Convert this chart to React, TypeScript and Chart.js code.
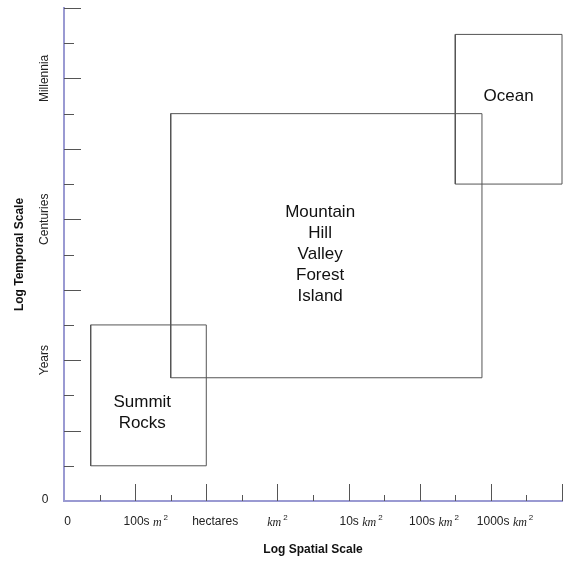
import React, { useEffect, useRef } from 'react';
import { Chart, registerables } from 'chart.js';

Chart.register(...registerables);

// Axis range (log-scale units, one unit per minor tick step)
const axisRange = [0, 14];

// Tick marks
const xMajorTicks = [2, 4, 6, 8, 10, 12, 14];
const xMinorTicks = [1, 3, 5, 7, 9, 11, 13];
const yMajorTicks = [2, 4, 6, 8, 10, 12, 14];
const yMinorTicks = [1, 3, 5, 7, 9, 11, 13];

// X tick labels
const xTickPrefix = ['0', '100s', 'hectares', '', '10s', '100s', '1000s'];
const xTickUnit = ['', 'm', '', 'km', 'km', 'km', 'km'];
const xTickPos = [0.1, 2.3, 4.25, 6, 8.35, 10.4, 12.4];

// Y tick labels
const yTickLabels = ['0', 'Years', 'Centuries', 'Millennia'];
const yTickPos = [0, 4, 8, 12];

// Boxes
const boxNames = ['Summit Rocks', 'Mountain Hill Valley Forest Island', 'Ocean'];
const boxLines = [['Summit', 'Rocks'], ['Mountain', 'Hill', 'Valley', 'Forest', 'Island'], ['Ocean']];
const boxXStart = [0.75, 3, 11];
const boxXEnd = [4, 11.75, 14];
const boxYStart = [1, 3.5, 9];
const boxYEnd = [5, 11, 13.25];
const boxLabelX = [2.2, 7.2, 12.5];
const boxLabelY = [2.5, 7, 11.5];

const SANS = '"Liberation Sans", Arial, sans-serif';
const SERIF = '"Liberation Serif", "Times New Roman", serif';
const AXIS_COLOR = '#9a9ad2';
const TICK_COLOR = '#555555';

const decorPlugin = {
  id: 'decor',
  afterDraw(chart: any) {
    const ctx = chart.ctx as CanvasRenderingContext2D;
    const xs = chart.scales.x;
    const ys = chart.scales.y;
    const area = chart.chartArea;
    ctx.save();
    // tick marks
    ctx.strokeStyle = TICK_COLOR;
    ctx.lineWidth = 1;
    const xTick = (v: number, len: number) => {
      const px = Math.round(xs.getPixelForValue(v)) + 0.5;
      ctx.beginPath();
      ctx.moveTo(px, area.bottom);
      ctx.lineTo(px, area.bottom - len);
      ctx.stroke();
    };
    const yTick = (v: number, len: number) => {
      const py = Math.round(ys.getPixelForValue(v)) + 0.5;
      ctx.beginPath();
      ctx.moveTo(area.left, py);
      ctx.lineTo(area.left + len, py);
      ctx.stroke();
    };
    xMajorTicks.forEach((v) => xTick(v, 17));
    xMinorTicks.forEach((v) => xTick(v, 6));
    yMajorTicks.forEach((v) => yTick(v, 17));
    yMinorTicks.forEach((v) => yTick(v, 10));

    // x tick labels
    ctx.fillStyle = '#222';
    ctx.textBaseline = 'alphabetic';
    ctx.textAlign = 'left';
    const baseY = area.bottom + 24;
    xTickPos.forEach((v, i) => {
      const prefix = xTickPrefix[i];
      const unit = xTickUnit[i];
      const fPre = `12px ${SANS}`;
      const fUnit = `italic 12px ${SERIF}`;
      const fSup = `8px ${SANS}`;
      ctx.font = fPre;
      const pre = prefix + (prefix && unit ? ' ' : '');
      const wPre = ctx.measureText(pre).width;
      ctx.font = fUnit;
      const wUnit = unit ? ctx.measureText(unit).width : 0;
      ctx.font = fSup;
      const wSup = unit ? ctx.measureText('2').width + 2 : 0;
      const total = wPre + wUnit + wSup;
      let x = xs.getPixelForValue(v) - total / 2;
      ctx.font = fPre;
      ctx.fillText(pre, x, baseY);
      x += wPre;
      if (unit) {
        ctx.font = fUnit;
        ctx.fillText(unit, x, baseY + 1);
        x += wUnit + 2;
        ctx.font = fSup;
        ctx.fillText('2', x, baseY - 5);
      }
    });

    // y tick labels
    ctx.font = `12px ${SANS}`;
    ctx.textAlign = 'center';
    ctx.textBaseline = 'middle';
    yTickPos.forEach((v, i) => {
      const py = ys.getPixelForValue(v);
      if (i === 0) {
        ctx.fillText(yTickLabels[i], 45, py - 1);
      } else {
        ctx.save();
        ctx.translate(45, py);
        ctx.rotate(-Math.PI / 2);
        ctx.fillText(yTickLabels[i], 0, 0);
        ctx.restore();
      }
    });

    // box labels
    ctx.font = `17px ${SANS}`;
    ctx.fillStyle = '#111';
    ctx.textAlign = 'center';
    ctx.textBaseline = 'middle';
    const lh = 21;
    boxLines.forEach((lines, i) => {
      const cx = xs.getPixelForValue(boxLabelX[i]);
      const cy = ys.getPixelForValue(boxLabelY[i]);
      const start = cy - ((lines.length - 1) * lh) / 2;
      lines.forEach((t, j) => ctx.fillText(t, cx, start + j * lh));
    });
    ctx.restore();
  },
};

export default function App() {
  const ref = useRef<HTMLCanvasElement | null>(null);
  useEffect(() => {
    if (!ref.current) return;
    const datasets = boxNames.map((name, i) => ({
      label: name,
      data: [
        { x: boxXStart[i], y: boxYStart[i] },
        { x: boxXEnd[i], y: boxYStart[i] },
        { x: boxXEnd[i], y: boxYEnd[i] },
        { x: boxXStart[i], y: boxYEnd[i] },
        { x: boxXStart[i], y: boxYStart[i] },
      ],
      showLine: true,
      borderColor: '#555555',
      borderWidth: 1,
      pointRadius: 0,
      pointHoverRadius: 0,
      fill: false,
      tension: 0,
      clip: false as any,
    }));
    const chart = new Chart(ref.current, {
      type: 'scatter',
      data: { datasets },
      options: {
        responsive: false,
        animation: false,
        events: [],
        layout: { padding: { top: 8, right: 3, left: 0, bottom: 0 } },
        plugins: { legend: { display: false }, tooltip: { enabled: false } },
        scales: {
          x: {
            type: 'linear',
            position: 'bottom',
            min: axisRange[0],
            max: axisRange[1],
            grid: { display: false },
            border: { display: true, color: AXIS_COLOR, width: 2 },
            ticks: { display: false },
            title: {
              display: true,
              text: 'Log Spatial Scale',
              color: '#111',
              font: { family: SANS, size: 12, weight: 'bold' },
              padding: { top: 0, bottom: 5 },
            },
            afterFit: (s: any) => {
              s.height = 61;
            },
          },
          y: {
            type: 'linear',
            position: 'left',
            min: axisRange[0],
            max: axisRange[1],
            grid: { display: false },
            border: { display: true, color: AXIS_COLOR, width: 2 },
            ticks: { display: false },
            title: {
              display: true,
              text: 'Log Temporal Scale',
              color: '#111',
              font: { family: SANS, size: 12, weight: 'bold' },
              padding: { top: 12, bottom: 0 },
            },
            afterFit: (s: any) => {
              s.width = 64;
            },
          },
        },
      },
      plugins: [decorPlugin],
    });
    return () => chart.destroy();
  }, []);
  return (
    <div style={{ position: 'fixed', left: 0, top: 0, width: 565, height: 562, background: '#fff' }}>
      <canvas ref={ref} width={565} height={562} style={{ display: 'block' }} />
    </div>
  );
}
